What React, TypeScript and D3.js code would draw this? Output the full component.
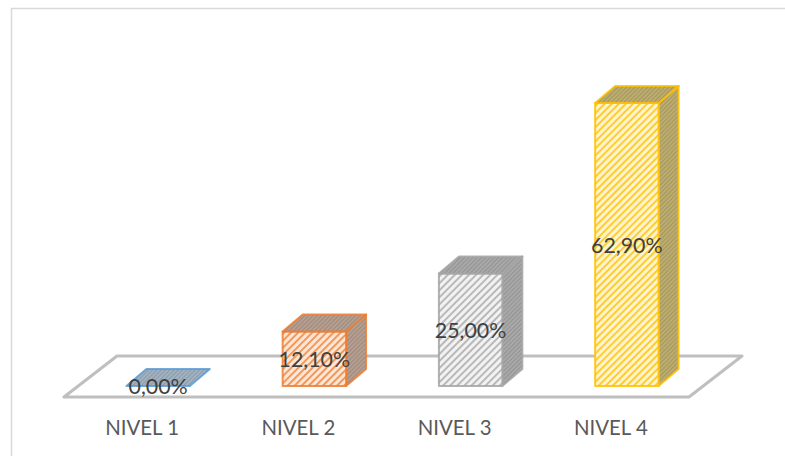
import React from 'react';
import * as d3 from 'd3';

const categories = ['NIVEL 1', 'NIVEL 2', 'NIVEL 3', 'NIVEL 4'];
const values = [0, 12.1, 25, 62.9];
const labels = ['0,00%', '12,10%', '25,00%', '62,90%'];
const colors = ['#5B9BD5', '#ED7D31', '#A5A5A5', '#FFC000'];
const tints = ['#DCE9F6', '#FDE6D6', '#F2F2F2', '#FFF4CC'];
const sideTints = ['#A3B4C4', '#B8A193', '#ABABAB', '#BFAF70'];

const width = 785;
const height = 456;
const floorFrontY = 397;
const floorBackY = 356;
const baseY = 386;
const depthX = 20;
const depthY = 17;

const x = d3.scaleBand<string>().domain(categories).range([64, 689]).paddingInner(0.594).paddingOuter(0.297);
const y = d3.scaleLinear().domain([0, 62.9]).range([baseY, 103]);
const line = d3.line();
const poly = (pts: [number, number][]) => line(pts) + 'Z';

const App: React.FC = () => {
  const w = x.bandwidth();
  return (
    <svg width={width} height={height} style={{ position: 'absolute', left: 0, top: 0, background: '#fff' }}>
      <defs>
        {colors.map((c, i) => (
          <React.Fragment key={c}>
            <pattern id={`front${i}`} width={5} height={5} patternUnits="userSpaceOnUse" patternTransform="rotate(45)">
              <rect width={5} height={5} fill={tints[i]} />
              <rect width={2} height={5} fill={c} opacity={0.75} />
            </pattern>
            <pattern id={`side${i}`} width={3} height={3} patternUnits="userSpaceOnUse" patternTransform="rotate(45)">
              <rect width={3} height={3} fill={sideTints[i]} />
              <rect width={1.2} height={3} fill="#000" opacity={0.14} />
            </pattern>
          </React.Fragment>
        ))}
      </defs>

      <rect x={11.5} y={8.5} width={800} height={470} fill="#fff" stroke="#D9D9D9" strokeWidth={1.5} />

      <path
        d={poly([[64, floorFrontY], [689, floorFrontY], [742, floorBackY], [117, floorBackY]])}
        fill="none"
        stroke="#BFBFBF"
        strokeWidth={3}
        strokeLinejoin="round"
      />

      {categories.map((cat, i) => {
        const x0 = (x(cat) as number) + 16;
        const x1 = x0 + w;
        const top = y(values[i]);
        return (
          <g key={cat} stroke={colors[i]} strokeWidth={2} strokeOpacity={0.85} strokeLinejoin="round">
            {values[i] > 0 && (
              <>
                <path d={poly([[x1, top], [x1 + depthX, top - depthY], [x1 + depthX, baseY - depthY], [x1, baseY]])} fill={`url(#side${i})`} />
                <path d={poly([[x0, top], [x1, top], [x1, baseY], [x0, baseY]])} fill={`url(#front${i})`} />
              </>
            )}
            <path d={poly([[x0, top], [x0 + depthX, top - depthY], [x1 + depthX, top - depthY], [x1, top]])} fill={`url(#side${i})`} />
          </g>
        );
      })}

      {categories.map((cat, i) => {
        const cx = (x(cat) as number) + 16 + w / 2;
        return (
          <text
            key={cat}
            x={cx}
            y={(y(values[i]) + baseY) / 2 + 1}
            dy="0.35em"
            textAnchor="middle"
            fontFamily="Lato, sans-serif"
            fontSize={21.4}
            fill="#404040"
          >
            {labels[i]}
          </text>
        );
      })}

      {categories.map(cat => (
        <text
          key={cat}
          x={(x(cat) as number) + w / 2}
          y={435}
          textAnchor="middle"
          fontFamily="Lato, sans-serif"
          fontSize={20.4}
          fill="#595959"
        >
          {cat}
        </text>
      ))}
    </svg>
  );
};

export default App;
